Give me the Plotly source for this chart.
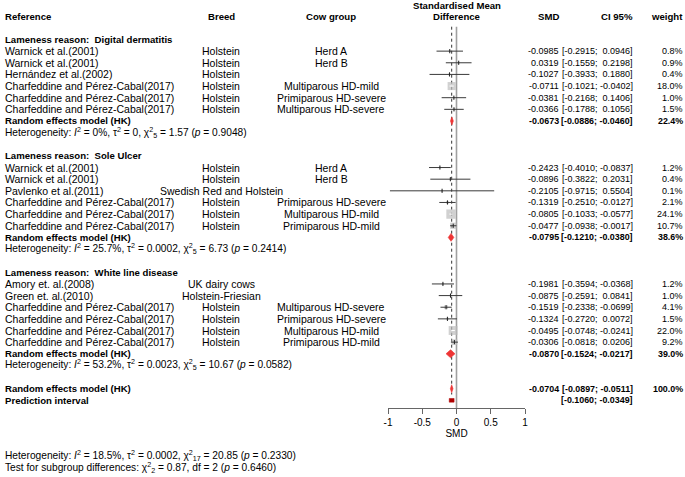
import plotly.graph_objects as go

# ---------------- data ----------------
group_names = ["Digital dermatitis", "Sole Ulcer", "White line disease"]

refs_dd = ["Warnick et al.(2001)", "Warnick et al.(2001)", "Hernández et al.(2002)",
           "Charfeddine and Pérez-Cabal(2017)", "Charfeddine and Pérez-Cabal(2017)",
           "Charfeddine and Pérez-Cabal(2017)"]
breed_dd = ["Holstein"] * 6
cow_dd = ["Herd A", "Herd B", "", "Multiparous HD-mild", "Primiparous HD-severe", "Multiparous HD-severe"]
smd_dd = [-0.0985, 0.0319, -0.1027, -0.0711, -0.0381, -0.0366]
lo_dd = [-0.2915, -0.1559, -0.3933, -0.1021, -0.2168, -0.1788]
hi_dd = [0.0946, 0.2198, 0.1880, -0.0402, 0.1406, 0.1056]
w_dd = [0.8, 0.9, 0.4, 18.0, 1.0, 1.5]

refs_su = ["Warnick et al.(2001)", "Warnick et al.(2001)", "Pavlenko et al.(2011)",
           "Charfeddine and Pérez-Cabal(2017)", "Charfeddine and Pérez-Cabal(2017)",
           "Charfeddine and Pérez-Cabal(2017)"]
breed_su = ["Holstein", "Holstein", "Swedish Red and Holstein", "Holstein", "Holstein", "Holstein"]
cow_su = ["Herd A", "Herd B", "", "Primiparous HD-severe", "Multiparous HD-mild", "Primiparous HD-mild"]
smd_su = [-0.2423, -0.0896, -0.2105, -0.1319, -0.0805, -0.0477]
lo_su = [-0.4010, -0.3822, -0.9715, -0.2510, -0.1033, -0.0938]
hi_su = [-0.0837, 0.2031, 0.5504, -0.0127, -0.0577, -0.0017]
w_su = [1.2, 0.4, 0.1, 2.1, 24.1, 10.7]

refs_wl = ["Amory et. al.(2008)", "Green et. al.(2010)",
           "Charfeddine and Pérez-Cabal(2017)", "Charfeddine and Pérez-Cabal(2017)",
           "Charfeddine and Pérez-Cabal(2017)", "Charfeddine and Pérez-Cabal(2017)"]
breed_wl = ["UK dairy cows", "Holstein-Friesian", "Holstein", "Holstein", "Holstein", "Holstein"]
cow_wl = ["", "", "Multiparous HD-severe", "Primiparous HD-severe", "Multiparous HD-mild", "Primiparous HD-mild"]
smd_wl = [-0.1981, -0.0875, -0.1519, -0.1324, -0.0495, -0.0306]
lo_wl = [-0.3594, -0.2591, -0.2338, -0.2720, -0.0748, -0.0818]
hi_wl = [-0.0368, 0.0841, -0.0699, 0.0072, -0.0241, 0.0206]
w_wl = [1.2, 1.0, 4.1, 1.5, 22.0, 9.2]

re_smd = [-0.0673, -0.0795, -0.0870]
re_lo = [-0.0886, -0.1210, -0.1524]
re_hi = [-0.0460, -0.0380, -0.0217]
re_w = [22.4, 38.6, 39.0]

het_i2 = [0, 25.7, 53.2]
het_tau2 = ["0", "0.0002", "0.0023"]
het_q = [1.57, 6.73, 10.67]
het_df = [5, 5, 5]
het_p = [0.9048, 0.2414, 0.0582]

overall_smd, overall_lo, overall_hi, overall_w = -0.0704, -0.0897, -0.0511, 100.0
pred_lo, pred_hi = -0.1060, -0.0349
overall_i2, overall_tau2, overall_q, overall_df, overall_p = 18.5, "0.0002", 20.85, 17, 0.2330
sub_q, sub_df, sub_p = 0.87, 2, 0.6460

tick_vals = [-1, -0.5, 0, 0.5, 1]
tick_text = ["-1", "-0.5", "0", "0.5", "1"]

# ---------------- layout constants ----------------
W, H = 685, 477
FONT = "Liberation Sans, Arial, sans-serif"
X_LEFT, X_RIGHT = 388, 525
AX_PX = 408
ROW0, RH = 39.5, 11.64
X_REF, X_BREED, X_COW, X_MID = 4, 221, 331, 456.5
X_SMD, X_CI, X_W = 560, 634, 684
SQ_MAX = 9.3
RED = "#EE3535"
FS_TXT, FS_BOLD, FS_NUM, FS_BNUM, FS_HET = 10.5, 9.6, 9.0, 8.9, 10.2

groups = [
    dict(refs=refs_dd, breed=breed_dd, cow=cow_dd, smd=smd_dd, lo=lo_dd, hi=hi_dd, w=w_dd),
    dict(refs=refs_su, breed=breed_su, cow=cow_su, smd=smd_su, lo=lo_su, hi=hi_su, w=w_su),
    dict(refs=refs_wl, breed=breed_wl, cow=cow_wl, smd=smd_wl, lo=lo_wl, hi=hi_wl, w=w_wl),
]

ann = []


def ypx(r):
    return ROW0 + RH * r


def txt(xp, yp, s, anchor="left", bold=False, size=FS_TXT):
    if bold:
        s = "<b>" + s + "</b>"
    ann.append(dict(x=xp / W, y=1 - yp / H, xref="paper", yref="paper", text=s,
                    showarrow=False, xanchor=anchor, yanchor="middle", borderpad=0,
                    font=dict(size=size, family=FONT, color="black")))


def fmt(v):
    return f"{v:.4f}"


def fmt_ci(lo, hi):
    a = fmt(lo) if lo < 0 else "\u00a0" + fmt(lo)
    b = fmt(hi) if hi < 0 else "\u00a0" + fmt(hi)
    return f"[{a};\u00a0{b}]"


def het(i2, tau2, q, df, p):
    return (f"Heterogeneity: <i>I</i><sup>2</sup> = {i2:g}%, τ<sup>2</sup> = {tau2}, "
            f"χ<sup>2</sup><sub>{df}</sub> = {q:.2f} (<i>p</i> = {p:.4f})")


fig = go.Figure()

# header
txt(X_MID, 5.5, "Standardised Mean", "center", True, FS_BOLD)
hy = 16.5
txt(X_REF, hy, "Reference", "left", True, FS_BOLD)
txt(X_BREED, hy, "Breed", "center", True, FS_BOLD)
txt(X_COW, hy, "Cow group", "center", True, FS_BOLD)
txt(X_MID, hy, "Difference", "center", True, FS_BOLD)
txt(X_SMD, hy, "SMD", "right", True, FS_BOLD)
txt(X_CI, hy, "CI 95%", "right", True, FS_BOLD)
txt(X_W, hy, "weight", "right", True, FS_BOLD)

axis_row = (AX_PX - ROW0) / RH

# reference lines
fig.add_trace(go.Scatter(x=[0, 0], y=[-1.1, axis_row], mode="lines",
                         line=dict(color="#a0a0a0", width=1.6), hoverinfo="skip"))
fig.add_trace(go.Scatter(x=[overall_smd, overall_smd], y=[-1.1, 30.5], mode="lines",
                         line=dict(color="#333333", width=1, dash="dot"), hoverinfo="skip"))

sq_x, sq_y, sq_s = [], [], []
dark_x, dark_y, white_x, white_y = [], [], [], []
tick_x, tick_y = [], []
px_per_unit = (X_RIGHT - X_LEFT) / 2.0

for gi, g in enumerate(groups):
    base = gi * 10
    txt(X_REF, ypx(base), "Lameness reason:\u00a0\u00a0" + group_names[gi], "left", True, FS_BOLD)
    for k in range(len(g["smd"])):
        r = base + 1 + k
        y = ypx(r)
        txt(X_REF, y, g["refs"][k])
        txt(X_BREED, y, g["breed"][k], "center")
        if g["cow"][k]:
            txt(X_COW, y, g["cow"][k], "center")
        txt(X_SMD, y, fmt(g["smd"][k]), "right", False, FS_NUM)
        txt(X_CI, y, fmt_ci(g["lo"][k], g["hi"][k]), "right", False, FS_NUM)
        txt(X_W, y, f"{g['w'][k]:.1f}%", "right", False, FS_NUM)
        s = SQ_MAX * (g["w"][k] / 24.1) ** 0.5
        sq_x.append(g["smd"][k]); sq_y.append(r); sq_s.append(max(s, 2.0))
        inside = (g["hi"][k] - g["lo"][k]) * px_per_unit < s
        if inside:
            white_x += [g["lo"][k], g["hi"][k], None]; white_y += [r, r, None]
        else:
            dark_x += [g["lo"][k], g["hi"][k], None]; dark_y += [r, r, None]
            tick_x.append(g["smd"][k]); tick_y.append(r)
    rr = base + 7
    y = ypx(rr)
    txt(X_REF, y, "Random effects model (HK)", "left", True, FS_BOLD)
    txt(X_SMD, y, fmt(re_smd[gi]), "right", True, FS_BNUM)
    txt(X_CI, y, fmt_ci(re_lo[gi], re_hi[gi]), "right", True, FS_BNUM)
    txt(X_W, y, f"{re_w[gi]:.1f}%", "right", True, FS_BNUM)
    fig.add_trace(go.Scatter(
        x=[re_lo[gi], re_smd[gi], re_hi[gi], re_smd[gi], re_lo[gi]],
        y=[rr, rr - 0.34, rr, rr + 0.34, rr], mode="lines", fill="toself",
        fillcolor=RED, line=dict(color=RED, width=0.6), hoverinfo="skip"))
    txt(X_REF, ypx(base + 8), het(het_i2[gi], het_tau2[gi], het_q[gi], het_df[gi], het_p[gi]),
        "left", False, FS_HET)

# study squares and CIs
fig.add_trace(go.Scatter(x=sq_x, y=sq_y, mode="markers",
                         marker=dict(symbol="square", size=sq_s, color="#bebebe", line=dict(width=0)),
                         hoverinfo="skip"))
fig.add_trace(go.Scatter(x=dark_x, y=dark_y, mode="lines",
                         line=dict(color="#3a3a3a", width=1), hoverinfo="skip"))
fig.add_trace(go.Scatter(x=white_x, y=white_y, mode="lines",
                         line=dict(color="white", width=1), hoverinfo="skip"))
fig.add_trace(go.Scatter(x=tick_x, y=tick_y, mode="markers",
                         marker=dict(symbol="line-ns", size=3, line=dict(color="#222", width=1)),
                         hoverinfo="skip"))

# overall
ro = 30
y = ypx(ro)
txt(X_REF, y, "Random effects model (HK)", "left", True, FS_BOLD)
txt(X_SMD, y, fmt(overall_smd), "right", True, FS_BNUM)
txt(X_CI, y, fmt_ci(overall_lo, overall_hi), "right", True, FS_BNUM)
txt(X_W, y, f"{overall_w:.1f}%", "right", True, FS_BNUM)
fig.add_trace(go.Scatter(
    x=[overall_lo, overall_smd, overall_hi, overall_smd, overall_lo],
    y=[ro, ro - 0.34, ro, ro + 0.34, ro], mode="lines", fill="toself",
    fillcolor=RED, line=dict(color=RED, width=0.6), hoverinfo="skip"))

rp = 31
y = ypx(rp)
txt(X_REF, y, "Prediction interval", "left", True, FS_BOLD)
txt(X_CI, y, fmt_ci(pred_lo, pred_hi), "right", True, FS_BNUM)
fig.add_trace(go.Scatter(
    x=[pred_lo, pred_hi, pred_hi, pred_lo, pred_lo],
    y=[rp - 0.16, rp - 0.16, rp + 0.16, rp + 0.16, rp - 0.16], mode="lines", fill="toself",
    fillcolor="#B00000", line=dict(color="#B00000", width=0.5), hoverinfo="skip"))

txt(X_REF, 456.0, het(overall_i2, overall_tau2, overall_q, overall_df, overall_p), "left", False, FS_HET)
txt(X_REF, 468.0, f"Test for subgroup differences: χ<sup>2</sup><sub>{sub_df}</sub> = {sub_q:.2f}, "
                  f"df = {sub_df} (<i>p</i> = {sub_p:.4f})", "left", False, FS_HET)

fig.update_layout(
    width=W, height=H, margin=dict(l=0, r=0, t=0, b=0),
    paper_bgcolor="white", plot_bgcolor="white", showlegend=False,
    annotations=ann,
    xaxis=dict(range=[-1, 1], domain=[X_LEFT / W, X_RIGHT / W], tickvals=tick_vals, ticktext=tick_text,
               ticks="outside", ticklen=5, tickcolor="#666", showline=True, linecolor="#666",
               linewidth=1, showgrid=False, zeroline=False, automargin=False,
               tickfont=dict(size=10, family=FONT, color="black"),
               title=dict(text="SMD", font=dict(size=10, family=FONT, color="black"), standoff=1)),
    yaxis=dict(range=[axis_row, -ROW0 / RH], domain=[1 - AX_PX / H, 1], visible=False,
               showgrid=False, zeroline=False, automargin=False),
)

fig.write_html("out.html")
